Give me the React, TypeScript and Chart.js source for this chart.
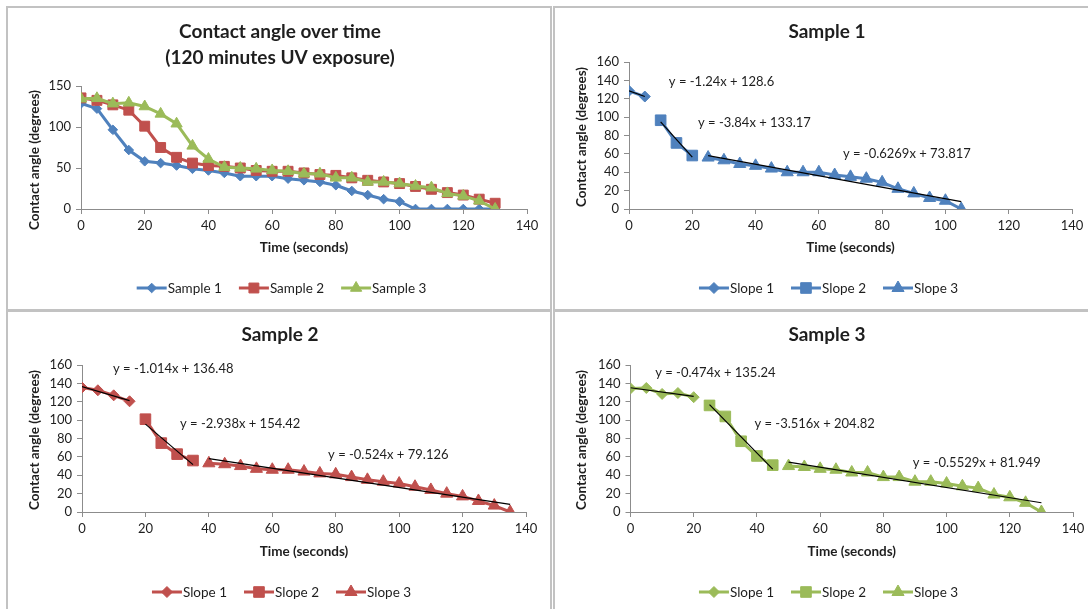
import { useEffect, useRef } from 'react';
import { Chart, registerables } from 'chart.js';
import { drawPoint } from 'chart.js/helpers';

Chart.register(...registerables);

// Measurement times in seconds
const TIMES = [0, 5, 10, 15, 20, 25, 30, 35, 40, 45, 50, 55, 60, 65, 70, 75, 80, 85, 90, 95, 100, 105, 110, 115, 120, 125, 130, 135];

// Contact angle (degrees) per sample, one value per time above
const SAMPLE_1 = [128.6, 122.4, 96.6, 71.9, 58.2, 56, 53, 49, 47, 44, 40, 40, 40, 37, 35, 33, 29, 22, 17, 12, 9, 0, 0, 0, 0, 0, 0];
const SAMPLE_2 = [135.5, 132.5, 127, 120.5, 101, 75, 63, 56, 53, 52, 50, 47, 46, 46, 44, 42, 41, 38, 35, 33, 31, 27.5, 24, 20, 17, 12, 7, 0];
const SAMPLE_3 = [134.5, 135, 128.5, 129.5, 125, 116, 104, 77, 61, 51, 50, 49, 47, 46, 43, 43, 38, 38, 33, 33, 31, 28, 26, 19, 16, 10, 0];

// The overview plot stops at this time
const OVERVIEW_LAST_TIME = 130;
// Sample 1 is only analysed up to the time it reaches zero
const SAMPLE_1_LAST_TIME = 105;

// Time ranges (seconds) of the three regimes and their linear fits
const SAMPLE_1_RANGES = [[0, 5], [10, 20], [25, 105]];
const SAMPLE_1_SLOPES = [-1.24, -3.84, -0.6269];
const SAMPLE_1_INTERCEPTS = [128.6, 133.17, 73.817];

const SAMPLE_2_RANGES = [[0, 15], [20, 35], [40, 135]];
const SAMPLE_2_SLOPES = [-1.014, -2.938, -0.524];
const SAMPLE_2_INTERCEPTS = [136.48, 154.42, 79.126];

const SAMPLE_3_RANGES = [[0, 20], [25, 45], [50, 130]];
const SAMPLE_3_SLOPES = [-0.474, -3.516, -0.5529];
const SAMPLE_3_INTERCEPTS = [135.24, 204.82, 81.949];

const SERIES_NAMES = ['Sample 1', 'Sample 2', 'Sample 3'];
const SLOPE_NAMES = ['Slope 1', 'Slope 2', 'Slope 3'];

const X_MAX = 140;
const X_STEP = 20;

const FONT = 'Lato, "Open Sans", sans-serif';
const TEXT = '#1e1e1e';
const AXIS_GREY = '#8c8c8c';
const COLORS = ['#4F81BD', '#C0504D', '#9BBB59'];
const STYLES = ['rectRot', 'rect', 'triangle'];

const AXIS_W = 45;
const AXIS_H = 30;

type Pt = { x: number; y: number };

const pairs = (values: number[]): Pt[] => values.map((y, i) => ({ x: TIMES[i], y }));

const SAMPLES = [
  { values: SAMPLE_1, last: SAMPLE_1_LAST_TIME, ranges: SAMPLE_1_RANGES, slopes: SAMPLE_1_SLOPES, intercepts: SAMPLE_1_INTERCEPTS },
  { values: SAMPLE_2, last: 135, ranges: SAMPLE_2_RANGES, slopes: SAMPLE_2_SLOPES, intercepts: SAMPLE_2_INTERCEPTS },
  { values: SAMPLE_3, last: 130, ranges: SAMPLE_3_RANGES, slopes: SAMPLE_3_SLOPES, intercepts: SAMPLE_3_INTERCEPTS },
];

type PanelDef = {
  box: { left: number; top: number; width: number; height: number };
  area: { left: number; right: number; top: number; bottom: number };
  yMax: number;
  yStep: number;
  title: string[];
  titleY: number;
  yTitleY: number;
  sample: number; // -1 for the overview
  eqAt: number[][];
};

const PANELS: PanelDef[] = [
  {
    box: { left: 6, top: 6, width: 546, height: 305 },
    area: { left: 73, right: 519, top: 78, bottom: 201 },
    yMax: 150, yStep: 50,
    title: ['Contact angle over time', '(120 minutes UV exposure)'],
    titleY: 24, yTitleY: 152, sample: -1, eqAt: [],
  },
  {
    box: { left: 553, top: 6, width: 552, height: 305 },
    area: { left: 74, right: 517, top: 54, bottom: 201 },
    yMax: 160, yStep: 20, title: ['Sample 1'], titleY: 24, yTitleY: 129, sample: 0,
    eqAt: [[12.6, 138], [21.8, 93.6], [67.6, 59.8]],
  },
  {
    box: { left: 6, top: 310, width: 546, height: 305 },
    area: { left: 74, right: 518, top: 53, bottom: 200 },
    yMax: 160, yStep: 20, title: ['Sample 2'], titleY: 23, yTitleY: 128, sample: 1,
    eqAt: [[9.8, 155.6], [30.9, 95.8], [77.6, 62]],
  },
  {
    box: { left: 553, top: 310, width: 552, height: 305 },
    area: { left: 75.5, right: 518, top: 53, bottom: 200 },
    yMax: 160, yStep: 20, title: ['Sample 3'], titleY: 23, yTitleY: 128, sample: 2,
    eqAt: [[7.8, 151], [39.2, 95.8], [89.3, 53.3]],
  },
];

// Titles, axis titles, fit equations and the line-with-marker legend
const panelText = {
  id: 'panelText',
  afterDraw(chart: any, _args: any, opts: any) {
    const { ctx, chartArea } = chart;
    ctx.save();
    ctx.fillStyle = TEXT;
    ctx.textBaseline = 'middle';
    ctx.textAlign = 'center';

    ctx.font = `bold 19px ${FONT}`;
    opts.title.forEach((line: string, i: number) => ctx.fillText(line, opts.titleX, opts.titleY + i * 26));

    ctx.font = `bold 13.5px ${FONT}`;
    ctx.fillText('Time (seconds)', (chartArea.left + chartArea.right) / 2, 240);
    ctx.save();
    ctx.translate(27, opts.yTitleY);
    ctx.rotate(-Math.PI / 2);
    ctx.fillText('Contact angle (degrees)', 0, 0);
    ctx.restore();

    ctx.textAlign = 'left';
    ctx.font = `13px ${FONT}`;
    const xs = chart.scales.x;
    const ys = chart.scales.y;
    (opts.equations || []).forEach((eq: any) => {
      ctx.fillText(eq.text, xs.getPixelForValue(eq.at[0]), ys.getPixelForValue(eq.at[1]));
    });

    // legend
    const items = chart.data.datasets.filter((d: any) => !d.isFit);
    ctx.font = `13.5px ${FONT}`;
    const LINE = 30;
    const GAP = 17;
    const widths = items.map((d: any) => LINE + 1 + ctx.measureText(d.label).width);
    const total = widths.reduce((a: number, b: number) => a + b, 0) + GAP * (items.length - 1);
    let x = opts.legendX - total / 2;
    const y = 280;
    items.forEach((d: any, i: number) => {
      ctx.strokeStyle = d.borderColor;
      ctx.lineWidth = 3;
      ctx.beginPath();
      ctx.moveTo(x, y);
      ctx.lineTo(x + LINE, y);
      ctx.stroke();
      ctx.fillStyle = d.backgroundColor;
      ctx.lineWidth = 1;
      drawPoint(ctx, { pointStyle: d.pointStyle, rotation: 0, radius: d.pointRadius, borderWidth: 1 }, x + LINE / 2, y);
      ctx.fillStyle = TEXT;
      ctx.fillText(d.label, x + LINE + 1, y + 1);
      x += widths[i] + GAP;
    });
    ctx.restore();
  },
};

function buildDatasets(p: PanelDef) {
  if (p.sample < 0) {
    const list = [SAMPLE_1, SAMPLE_2, SAMPLE_3].map((vals, i) => ({
      label: SERIES_NAMES[i],
      data: pairs(vals).filter((pt) => pt.x <= OVERVIEW_LAST_TIME),
      borderColor: COLORS[i],
      backgroundColor: COLORS[i],
      borderWidth: 3,
      pointStyle: STYLES[i],
      pointRadius: [4.8, 7, 6.5][i],
      pointBorderWidth: 1,
      order: 2 - i,
    }));
    return list;
  }
  const s = SAMPLES[p.sample];
  const pts = pairs(s.values).filter((pt) => pt.x <= s.last);
  const color = COLORS[p.sample];
  const series = s.ranges.map(([a, b], i) => ({
    label: SLOPE_NAMES[i],
    data: pts.filter((pt) => pt.x >= a && pt.x <= b),
    borderColor: color,
    backgroundColor: color,
    borderWidth: 3,
    pointStyle: STYLES[i],
    pointRadius: [5.5, 7.5, 7][i],
    pointBorderWidth: 1,
    order: 3 - i,
  }));
  const fits = s.ranges.map(([a, b], i) => ({
    label: `fit ${i + 1}`,
    isFit: true,
    data: [a, b].map((x) => ({ x, y: s.slopes[i] * x + s.intercepts[i] })),
    borderColor: '#000',
    backgroundColor: '#000',
    borderWidth: 1.2,
    pointRadius: 0,
    order: -1,
  }));
  return [...series, ...fits];
}

function equations(p: PanelDef) {
  if (p.sample < 0) return [];
  const s = SAMPLES[p.sample];
  return s.slopes.map((m, i) => ({ text: `y = ${m}x + ${s.intercepts[i]}`, at: p.eqAt[i] }));
}

function PanelChart({ p }: { p: PanelDef }) {
  const ref = useRef<HTMLCanvasElement | null>(null);
  const cw = p.box.width - 4;
  const ch = p.box.height - 4;

  useEffect(() => {
    if (!ref.current) return;
    const tickFont = { family: FONT, size: 13 };
    const chart = new Chart(ref.current, {
      type: 'line',
      data: { datasets: buildDatasets(p) as any },
      plugins: [panelText],
      options: {
        responsive: false,
        animation: false,
        events: [],
        layout: {
          padding: {
            left: p.area.left - AXIS_W,
            right: cw - p.area.right,
            top: p.area.top,
            bottom: ch - p.area.bottom - AXIS_H,
          },
        },
        scales: {
          x: {
            type: 'linear',
            min: 0,
            max: X_MAX,
            ticks: { stepSize: X_STEP, autoSkip: false, font: tickFont, color: TEXT, padding: 4, maxRotation: 0 },
            grid: { display: true, drawOnChartArea: false, drawTicks: true, tickLength: 5, color: AXIS_GREY },
            border: { display: true, color: AXIS_GREY },
            afterFit: (sc: any) => { sc.height = AXIS_H; },
          },
          y: {
            type: 'linear',
            min: 0,
            max: p.yMax,
            ticks: { stepSize: p.yStep, autoSkip: false, font: tickFont, color: TEXT, padding: 5 },
            grid: { display: true, drawOnChartArea: false, drawTicks: true, tickLength: 5, color: AXIS_GREY },
            border: { display: true, color: AXIS_GREY },
            afterFit: (sc: any) => { sc.width = AXIS_W; },
          },
        },
        plugins: {
          legend: { display: false },
          title: { display: false },
          tooltip: { enabled: false },
          panelText: {
            title: p.title,
            titleX: 272,
            titleY: p.titleY,
            yTitleY: p.yTitleY,
            legendX: 273.5,
            equations: equations(p),
          },
        } as any,
      },
    } as any);
    return () => chart.destroy();
  }, [p, cw, ch]);

  return (
    <div
      style={{
        position: 'absolute',
        left: p.box.left,
        top: p.box.top,
        width: p.box.width,
        height: p.box.height,
        border: '2px solid #c2c2c2',
        boxSizing: 'border-box',
        background: '#fff',
      }}
    >
      <canvas ref={ref} width={cw} height={ch} style={{ display: 'block', width: cw, height: ch }} />
    </div>
  );
}

export default function App() {
  return (
    <div style={{ position: 'absolute', left: 0, top: 0, width: 1088, height: 609, overflow: 'hidden', background: '#fff' }}>
      {PANELS.map((p, i) => (
        <PanelChart key={i} p={p} />
      ))}
    </div>
  );
}
